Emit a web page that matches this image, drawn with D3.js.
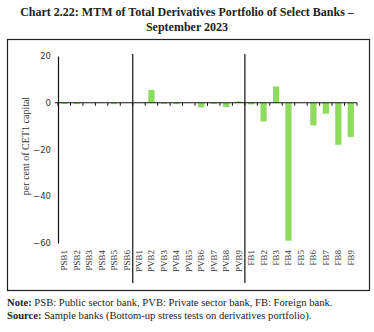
<!DOCTYPE html>
<html>
<head>
<meta charset="utf-8">
<script src="https://cdn.jsdelivr.net/npm/d3@7"></script>
<style>
  body { margin: 0; background: #fff; }
  svg { display: block; }
</style>
</head>
<body>
<div id="chart"></div>
<script>
// bank labels, grouped PSB / PVB / FB
const banks = ["PSB1", "PSB2", "PSB3", "PSB4", "PSB5", "PSB6",
    "PVB1", "PVB2", "PVB3", "PVB4", "PVB5", "PVB6", "PVB7", "PVB8", "PVB9",
    "FB1", "FB2", "FB3", "FB4", "FB5", "FB6", "FB7", "FB8", "FB9"];
// MTM, per cent of CET1 capital
const mtm = [-0.5, -0.6, 0, 0, -0.6, 0,
    0, 5.5, -0.5, -0.6, 0.2, -2.0, -0.5, -1.8, 0.6,
    -0.7, -8.0, 7.0, -59.0, 0, -9.7, -4.7, -18.0, -14.6];
const yTicks = [20, 0, -20, -40, -60];
const groupBreaks = ["PVB1", "FB1"];

const W = 374, H = 332;
const svg = d3.select("#chart").append("svg")
    .attr("width", W).attr("height", H);

const serif = "'Liberation Serif', 'DejaVu Serif', serif";

// title
svg.append("text")
    .attr("x", W / 2).attr("y", 16)
    .attr("text-anchor", "middle")
    .style("font-family", serif).style("font-weight", "bold").style("font-size", "12px")
    .style("fill", "#222")
    .text("Chart 2.22: MTM of Total Derivatives Portfolio of Select Banks \u2013");
svg.append("text")
    .attr("x", W / 2).attr("y", 31)
    .attr("text-anchor", "middle")
    .style("font-family", serif).style("font-weight", "bold").style("font-size", "12px")
    .style("fill", "#222")
    .text("September 2023");

// frame
svg.append("rect")
    .attr("x", 7.5).attr("y", 39.5).attr("width", 362).attr("height", 251)
    .attr("fill", "none").attr("stroke", "#222").attr("stroke-width", 1.2);

const x = d3.scaleBand().domain(banks).range([58, 357]).paddingInner(0.5).paddingOuter(0.25);
const y = d3.scaleLinear().domain([-60, 20]).range([243, 56]);

// bars
svg.selectAll(".bar")
    .data(banks)
    .enter()
    .append("rect")
    .attr("class", "bar")
    .attr("x", d => x(d))
    .attr("width", x.bandwidth())
    .attr("y", (d, i) => y(Math.max(0, mtm[i])))
    .attr("height", (d, i) => Math.abs(y(mtm[i]) - y(0)))
    .attr("fill", "#8fdb5d");

// y axis
const yAxis = svg.append("g")
    .attr("transform", "translate(58,0)")
    .call(d3.axisLeft(y).tickValues(yTicks).tickSize(0).tickPadding(7));
yAxis.select(".domain").attr("stroke", "#111").attr("stroke-width", 1.2);
yAxis.selectAll("text")
    .style("font-family", "'DejaVu Sans', Verdana, sans-serif").style("font-size", "8.5px")
    .style("fill", "#333");

// x axis along zero, ticks at band edges
const step = x.step();
const edges = d3.range(banks.length + 1).map(i => 58 + i * (299 / banks.length));
svg.append("line")
    .attr("x1", 55).attr("x2", 357)
    .attr("y1", y(0)).attr("y2", y(0))
    .attr("stroke", "#111").attr("stroke-width", 1.2);
svg.selectAll(".xtick")
    .data(edges)
    .enter()
    .append("line")
    .attr("class", "xtick")
    .attr("x1", d => d).attr("x2", d => d)
    .attr("y1", y(0)).attr("y2", y(0) + 3)
    .attr("stroke", "#111").attr("stroke-width", 1);

// group separators
groupBreaks.forEach(b => {
    const bx = x(b) - step * x.paddingInner() / 2;
    svg.append("line")
        .attr("x1", bx).attr("x2", bx)
        .attr("y1", 54).attr("y2", 283)
        .attr("stroke", "#111").attr("stroke-width", 1.2);
});

// category labels, rotated
svg.selectAll(".xlab")
    .data(banks)
    .enter()
    .append("text")
    .attr("class", "xlab")
    .attr("transform", d => `translate(${x(d) + x.bandwidth() / 2 + 3},250) rotate(-90)`)
    .attr("text-anchor", "end")
    .style("font-family", serif).style("font-size", "9px")
    .style("fill", "#333")
    .text(d => d);

// y axis title
svg.append("text")
    .attr("transform", "translate(29,146) rotate(-90)")
    .attr("text-anchor", "middle")
    .style("font-family", serif).style("font-size", "10px")
    .style("fill", "#333")
    .text("per cent of CET1 capital");

// notes
const note = svg.append("text")
    .attr("x", 7).attr("y", 306)
    .style("font-family", serif).style("font-size", "10.6px").style("fill", "#222");
note.append("tspan").style("font-weight", "bold").text("Note: ");
note.append("tspan").text("PSB: Public sector bank, PVB: Private sector bank, FB: Foreign bank.");

const src = svg.append("text")
    .attr("x", 7).attr("y", 319)
    .style("font-family", serif).style("font-size", "10.6px").style("fill", "#222");
src.append("tspan").style("font-weight", "bold").text("Source: ");
src.append("tspan").text("Sample banks (Bottom-up stress tests on derivatives portfolio).");
</script>
</body>
</html>
